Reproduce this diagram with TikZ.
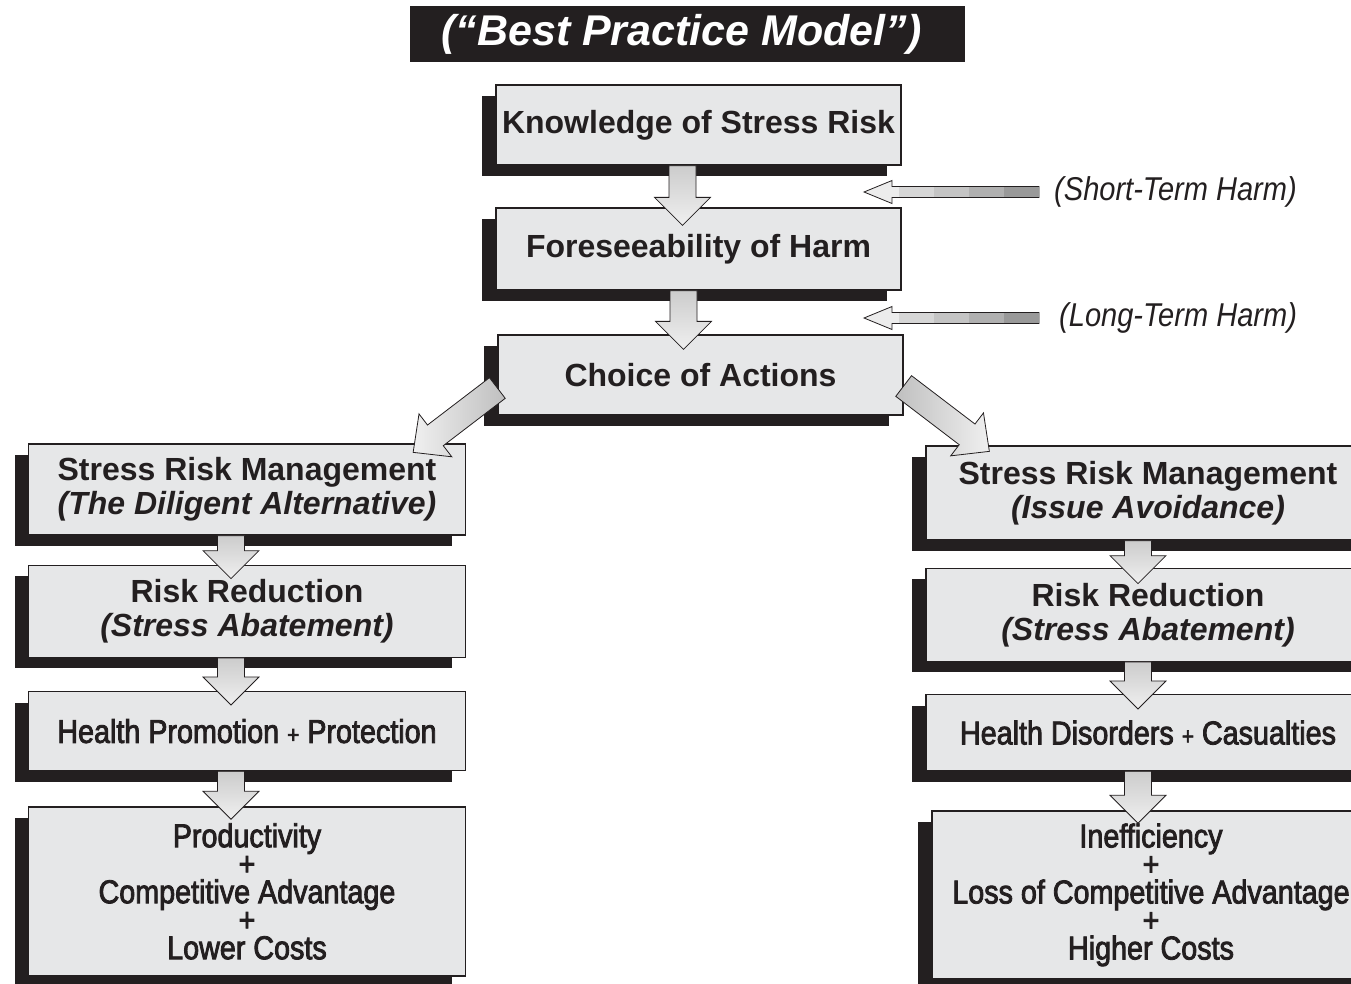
\documentclass[tikz,border=0pt]{standalone}
\usepackage{fontspec}
\setmainfont{Liberation Sans}
\newfontfamily\condfont[FakeStretch=0.87,FakeBold=2.5]{Liberation Sans}
\newfontfamily\harmfont[FakeStretch=0.88]{Liberation Sans}
\usepackage{tikz}
\usetikzlibrary{calc,positioning,shadows}
\definecolor{boxgray}{RGB}{230,231,232}
\definecolor{inkblack}{RGB}{35,31,32}
% block arrow: [style]{from}{to}{half shaft}{half head}
\newcommand{\fatarrow}[5][]{%
  \draw[fat,#1] ($(#2)!#4!90:(#3)$)
    -- ($(#3)!28pt!(#2)!#4!90:(#3)$)
    -- ($(#3)!28pt!(#2)!#5!90:(#3)$)
    -- (#3)
    -- ($(#3)!28pt!(#2)!#5!-90:(#3)$)
    -- ($(#3)!28pt!(#2)!#4!-90:(#3)$)
    -- ($(#2)!#4!-90:(#3)$) -- cycle;}
\newcommand{\plus}{{\fontsize{24}{24}\selectfont+}}

\begin{document}
\begin{tikzpicture}[x=1pt, y=-1pt,
    box/.style={draw=inkblack, line width=1.3pt, fill=boxgray, text=inkblack,
                align=center, inner sep=0pt,
                general shadow={fill=inkblack, shadow xshift=-14pt, shadow yshift=-11pt}},
    head/.style={box, font=\bfseries\fontsize{32}{34}\selectfont},
    cond/.style={box, font=\condfont\fontsize{33}{28}\selectfont},
    mid/.style={head, minimum width=405pt, minimum height=80pt},
    colL/.style={minimum width=437pt},
    colR/.style={minimum width=444pt},
    titlebox/.style={fill=inkblack, text=white, inner sep=0pt,
                minimum width=555pt, minimum height=56pt,
                font=\bfseries\itshape\fontsize{43}{43}\selectfont},
    fat/.style={draw=inkblack, line width=0.8pt, line join=miter},
    vert/.style={fat, top color=gray!40, bottom color=gray!12},
    diagL/.style={fat, left color=gray!12, right color=gray!50},
    diagR/.style={fat, left color=gray!50, right color=gray!12},
    harm/.style={fat, fill=gray!15},
    harmlbl/.style={font=\harmfont\itshape\fontsize{33}{33}\selectfont,
                text=inkblack, inner sep=1pt},
  ]
  \path[fill=white, use as bounding box] (0,0) rectangle (1351,983);

  \node[titlebox] (title) at (687.5,34) {\hspace*{-12pt}(“Best Practice Model”)};

  % main chain
  \node[mid] (know) at (698.5,125) {Knowledge of Stress Risk};
  \node[mid, minimum height=82pt] (fore) at (698.5,249) {Foreseeability of Harm};
  \node[mid] (choice) at (700.5,375) {Choice of Actions};

  % left column
  \node[head, colL, minimum height=91pt] (lsrm) at (247,489.5)
    {Stress Risk Management\\\textit{(The Diligent Alternative)}};
  \node[head, colL, minimum height=92pt, below=29pt of lsrm] (lrr)
    {Risk Reduction\\\textit{(Stress Abatement)}};
  \node[cond, colL, minimum height=79pt, below=33pt of lrr] (lhp)
    {Health Promotion \plus{} Protection};
  \node[cond, colL, minimum height=169pt, below=35pt of lhp] (lprod)
    {Productivity\\+\\Competitive Advantage\\+\\Lower Costs};

  % right column
  \node[head, colR, minimum height=94pt] (rsrm) at (1148,493)
    {Stress Risk Management\\\textit{(Issue Avoidance)}};
  \node[head, colR, minimum height=93pt, below=27pt of rsrm] (rrr)
    {Risk Reduction\\\textit{(Stress Abatement)}};
  \node[cond, colR, minimum height=76pt, below=32pt of rrr] (rhd)
    {Health Disorders \plus{} Casualties};
  \node[cond, minimum width=438pt, minimum height=168pt, below=39pt of rhd, xshift=3pt] (rineff)
    {Inefficiency\\+\\Loss of Competitive Advantage\\+\\Higher Costs};

  % harm arrows
  \coordinate (stt) at (864,192);
  \coordinate (sts) at (1039,192);
  \coordinate (ltt) at (864,318);
  \coordinate (lts) at (1039,318);
  \fatarrow[harm]{sts}{stt}{5.5pt}{11.5pt}
  \fatarrow[harm]{lts}{ltt}{5.5pt}{11.5pt}
  \foreach \c [count=\k] in {80,62,46,32} {
    \fill[gray!\c] ($(sts)+(-35*\k,-5)$) rectangle ($(sts)+(-35*\k+35,5)$);
    \fill[gray!\c] ($(lts)+(-35*\k,-5)$) rectangle ($(lts)+(-35*\k+35,5)$);
  }
  \node[harmlbl, right=14pt of sts] (sth) {(Short-Term Harm)};
  \node[harmlbl, right=19pt of lts] (lth) {(Long-Term Harm)};

  % flow arrows
  \fatarrow[vert]{[xshift=-16pt]know.south}{[xshift=-16pt,yshift=-18pt]fore.north}{13.5pt}{28pt}
  \fatarrow[vert]{[xshift=-15pt]fore.south}{[xshift=-17pt,yshift=-15pt]choice.north}{13.5pt}{28pt}
  \fatarrow[diagL]{[yshift=-13pt]choice.west}{[xshift=-53pt,yshift=-9pt]lsrm.north east}{13pt}{27pt}
  \fatarrow[diagR]{[yshift=-11pt]choice.east}{[xshift=64pt,yshift=-6pt]rsrm.north west}{13pt}{27pt}

  \fatarrow[vert]{[xshift=-16pt]lsrm.south}{[xshift=-16pt,yshift=-14pt]lrr.north}{13.5pt}{28pt}
  \fatarrow[vert]{[xshift=-16pt]lrr.south}{[xshift=-16pt,yshift=-14pt]lhp.north}{13.5pt}{28pt}
  \fatarrow[vert]{[xshift=-16pt]lhp.south}{[xshift=-16pt,yshift=-13pt]lprod.north}{13.5pt}{28pt}

  \fatarrow[vert]{[xshift=-10pt]rsrm.south}{[xshift=-10pt,yshift=-16pt]rrr.north}{13.5pt}{28pt}
  \fatarrow[vert]{[xshift=-10pt]rrr.south}{[xshift=-10pt,yshift=-15pt]rhd.north}{13.5pt}{28pt}
  \fatarrow[vert]{[xshift=-10pt]rhd.south}{[xshift=-13pt,yshift=-13pt]rineff.north}{13.5pt}{28pt}
\end{tikzpicture}
\end{document}
